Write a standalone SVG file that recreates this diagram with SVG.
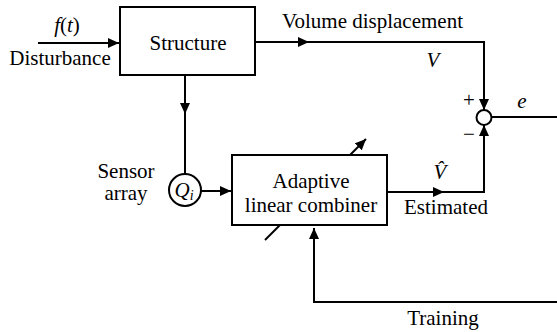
<svg xmlns="http://www.w3.org/2000/svg" width="557" height="332" viewBox="0 0 557 332">
<defs>
<style>
.ln{fill:none;stroke:#000;stroke-width:2}
.bx{fill:#fff;stroke:#000;stroke-width:2}
.t{font-size:21px;fill:#000}
.c{text-anchor:middle}
.i{font-style:italic}
.arr{marker-end:url(#ah)}
</style>
<marker id="ah" markerUnits="userSpaceOnUse" markerWidth="12" markerHeight="10" refX="11" refY="5" orient="auto">
<path d="M0,0 L11,5 L0,10 z" fill="#000"/>
</marker>
</defs>
<rect width="557" height="332" fill="#fff"/>
<g id="connectors">
<path class="ln arr" d="M38,43 L119,43"/>
<path class="ln arr" d="M255,42 L309,42"/>
<path class="ln arr" d="M309,42 L484,42 L484,110"/>
<path class="ln arr" d="M185,75 L185,114"/>
<path class="ln" d="M185,114 L185,174"/>
<path class="ln arr" d="M201,191 L231,191"/>
<path class="ln arr" d="M387,192 L444,192"/>
<path class="ln arr" d="M444,192 L484,192 L484,125"/>
<path class="ln" d="M492,117 L557,117"/>
<path class="ln arr" d="M557,302 L314,302 L314,228"/>
</g>
<g font-family="Liberation Serif, Times New Roman, Times, Nimbus Roman, Noto Serif, FreeSerif, DejaVu Serif, serif">
<g id="disturbance">
<text class="t c" x="67" y="32"><tspan class="i">f</tspan>(<tspan class="i">t</tspan>)</text>
<text class="t c" x="60" y="65">Disturbance</text>
</g>
<g id="structure">
<rect class="bx" x="120" y="7" width="135" height="68"/>
<text class="t c" x="188" y="50">Structure</text>
</g>
<g id="sensor">
<circle class="bx" cx="185" cy="190" r="16"/>
<text class="t c" x="184" y="197"><tspan class="i">Q</tspan><tspan class="i" font-size="14" dy="3">i</tspan></text>
<text class="t c" x="126" y="178">Sensor</text>
<text class="t c" x="126" y="200">array</text>
</g>
<g id="combiner">
<path class="ln arr" d="M265,240 L366,139"/>
<rect class="bx" x="232" y="155" width="155" height="70"/>
<text class="t c" x="311" y="188">Adaptive</text>
<text class="t c" x="311" y="212">linear combiner</text>
</g>
<g id="sum">
<circle class="bx" cx="484" cy="117.5" r="7.5"/>
<text class="t c" x="469" y="107">+</text>
<text class="t c" x="469" y="141">−</text>
</g>
<g id="labels">
<text class="t" x="282" y="28">Volume displacement</text>
<text class="t c i" x="433" y="67">V</text>
<text class="t c i" x="522" y="108">e</text>
<text class="t c i" x="440" y="179">V&#x302;</text>
<text class="t c" x="446" y="214">Estimated</text>
<text class="t c" x="443" y="325">Training</text>
</g>
</g>
</svg>
